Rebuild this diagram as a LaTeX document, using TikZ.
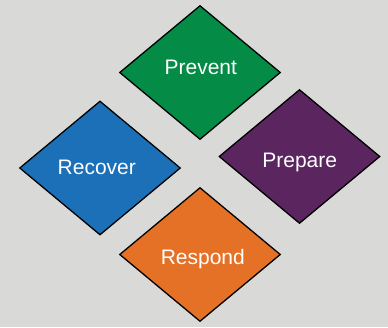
\documentclass[tikz,border=0pt]{standalone}
\usepackage{fontspec}
\setmainfont{Liberation Sans}
\usetikzlibrary{shapes.geometric}
\definecolor{bggray}{RGB}{217,217,216}
\definecolor{preventgreen}{RGB}{4,139,69}
\definecolor{recoverblue}{RGB}{28,112,184}
\definecolor{preparepurple}{RGB}{91,37,96}
\definecolor{respondorange}{RGB}{228,113,38}

\tikzset{
  phase/.style={diamond,draw=black,line width=1.3pt,inner sep=0pt,
    minimum width=161pt,minimum height=134pt},
  phasetext/.style={text=white,anchor=base,font=\fontsize{21}{25}\selectfont}
}

\begin{document}
\begin{tikzpicture}[x=1pt,y=-1pt]
  \fill[bggray] (0,0) rectangle (388,327);
  \useasboundingbox (0,0) rectangle (388,327);
  % the four phases
  \node[phase,fill=preventgreen] (prevent) at (200,72.5) {};
  \node[phase,fill=recoverblue] (recover) at (100,168) {};
  \node[phase,fill=preparepurple] (prepare) at (299.5,156.5) {};
  \node[phase,fill=respondorange] (respond) at (200,254.5) {};
  % labels
  \node[phasetext] (preventlbl) at (200.8,74) {Prevent};
  \node[phasetext] (recoverlbl) at (96.8,174.3) {Recover};
  \node[phasetext] (preparelbl) at (299.7,167.7) {Prepare};
  \node[phasetext] (respondlbl) at (202.8,264.7) {Respond};
\end{tikzpicture}
\end{document}
